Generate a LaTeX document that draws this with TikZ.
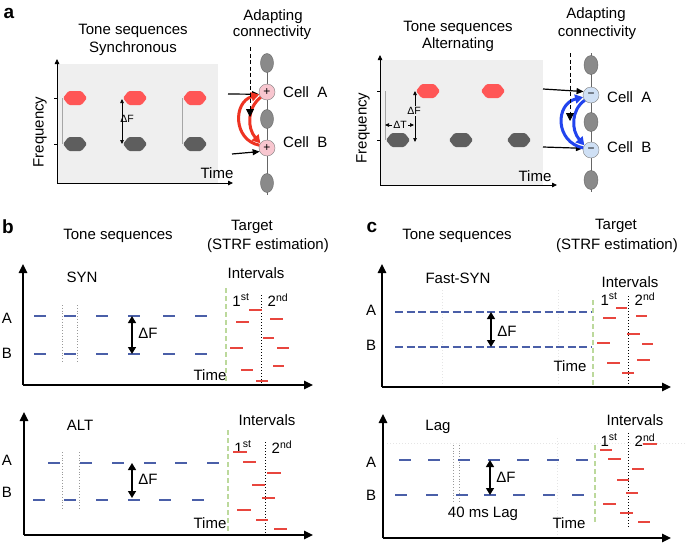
\documentclass[tikz,border=0pt]{standalone}
\usepackage{fontspec}
\setmainfont{Liberation Sans}
\usetikzlibrary{arrows.meta,shapes.geometric}
\definecolor{bgpanel}{HTML}{EFEFEF}
\definecolor{hexred}{HTML}{FF5656}
\definecolor{hexgray}{HTML}{5E5E5E}
\definecolor{cellpink}{HTML}{F8C6CF}
\definecolor{cellblue}{HTML}{CFE0F5}
\definecolor{cellgray}{HTML}{8A8A8A}
\definecolor{arrred}{HTML}{EE3322}
\definecolor{arrblue}{HTML}{2244EE}
\definecolor{bluedash}{HTML}{4A5FA8}
\definecolor{reddash}{HTML}{E8463E}
\definecolor{greendash}{HTML}{BCD99C}
\begin{document}
\begin{tikzpicture}[x=1pt,y=-1pt,
  every node/.style={inner sep=0pt},
  txt/.style={font=\fontsize{15}{17}\selectfont},
  small/.style={font=\fontsize{10.5}{12}\selectfont},
  plabel/.style={font=\fontsize{19}{22}\selectfont\bfseries},
  axisa/.style={line width=0.8, -{Triangle[length=5,width=4.5]}},
  axisb/.style={line width=1.4, -{Triangle[length=9,width=8.5]}},
  tickl/.style={line width=0.7},
  thingray/.style={line width=0.8, black!35},
  smallarr/.style={line width=0.7, {Triangle[length=4,width=3.5]}-{Triangle[length=4,width=3.5]}},
  dfarr/.style={line width=1.4, {Triangle[length=7,width=8]}-{Triangle[length=7,width=8]}},
  inarr/.style={line width=1.2, -{Triangle[length=7,width=6]}},
  dasharr/.style={line width=0.8, dash pattern=on 4pt off 2.5pt, -{Triangle[length=8,width=8]}},
  redarr/.style={arrred, line width=3, -{Triangle[length=8,width=9]}},
  bluearr/.style={arrblue, line width=3, -{Triangle[length=8,width=9]}},
  chain/.style={black!60, line width=1},
  cellp/.style={circle, draw=black!50, fill=cellpink, minimum size=16pt, font=\fontsize{12}{12}\selectfont},
  cellb/.style={circle, draw=black!50, fill=cellblue, minimum size=16pt, font=\fontsize{12}{12}\selectfont},
  gcell/.style={ellipse, draw=black!60, fill=cellgray, minimum width=13pt, minimum height=19pt},
  bdash/.style={draw=bluedash, line width=1.3},
  rdash/.style={draw=reddash, line width=1.2},
  gdots/.style={black!40, line width=0.8, dash pattern=on 0.8pt off 2pt},
  faint/.style={black!10, line width=0.8, dash pattern=on 0.8pt off 2.2pt},
  ival/.style={black, line width=0.9, dash pattern=on 0.9pt off 2.1pt},
  gline/.style={greendash, line width=2, dash pattern=on 5pt off 3pt},
  hexa/.pic={\path[pic actions, rounded corners=1.5pt] (-12,0) -- (-6.5,-7) -- (6.5,-7) -- (12,0) -- (6.5,7) -- (-6.5,7) -- cycle;}
]
\useasboundingbox (0,0) rectangle (685,544);
\fill[white] (0,0) rectangle (685,544);

% ================= Panel a, left =================
\node[plabel] (la) at (9,13) {a};
\fill[bgpanel] (57,64) rectangle (218,183);
\coordinate (axL0) at (57,183);
\coordinate (axLy) at (57,59);
\coordinate (axLx) at (233,183);
\draw[axisa] (axL0) -- (axLy);
\draw[axisa] (axL0) -- (axLx);
\draw[tickl] (54,98) -- (57,98);
\draw[tickl] (54,144) -- (57,144);
\node[txt] (ts1) at (133,31) {Tone sequences};
\node[txt] (syn1) at (133,49) {Synchronous};
\node[txt, rotate=90] (fq1) at (40,132) {Frequency};
\node[txt] (tm1) at (217,173) {Time};
\draw[thingray] (62,98) -- (62,144);
\draw[thingray] (182,98) -- (182,144);
\foreach \x in {75,135,195} {
  \pic[fill=hexred] at (\x,98) {hexa};
  \pic[fill=hexgray] at (\x,144) {hexa};
}
\coordinate (dfa1t) at (122,99);
\coordinate (dfa1b) at (122,144);
\draw[smallarr] (dfa1t) -- (dfa1b);
\node[small] (dfl1) at (127,119) {ΔF};

% connectivity left
\node[txt] (ad1) at (273,17) {Adapting};
\node[txt] (co1) at (272,33) {connectivity};
\coordinate (ch1t) at (267,55);
\coordinate (ch1b) at (267,195);
\draw[chain] (ch1t) -- (ch1b);
\node[gcell] (g11) at (267,63) {};
\node[cellp] (cA1) at (267,92) {+};
\node[gcell] (g12) at (267,119) {};
\node[cellp] (cB1) at (267,148) {+};
\node[gcell] (g13) at (267,183) {};
\node[txt, anchor=west] (lA1) at (283,92) {Cell~~A};
\node[txt, anchor=west] (lB1) at (283,142) {Cell~~B};
\coordinate (in1a) at (228,94);
\coordinate (in1b) at (232,154);
\draw[inarr] (in1a) -- (cA1.196);
\draw[inarr] (in1b) -- (cB1.206);
\coordinate (ds1t) at (250,47);
\coordinate (ds1b) at (250,117);
\draw[redarr] (cB1.160) .. controls (233,140) and (233,102) .. (cA1.198);
\draw[redarr] (cA1.220) .. controls (247,108) and (247,128) .. (cB1.145);
\draw[dasharr] (ds1t) -- (ds1b);

% ================= Panel a, right =================
\fill[bgpanel] (380,60) rectangle (543,185);
\coordinate (axR0) at (380,185);
\coordinate (axRy) at (380,55);
\coordinate (axRx) at (557,185);
\draw[axisa] (axR0) -- (axRy);
\draw[axisa] (axR0) -- (axRx);
\draw[tickl] (377,91) -- (380,91);
\draw[tickl] (377,140) -- (380,140);
\node[txt] (ts2) at (458,28) {Tone sequences};
\node[txt] (alt2) at (458,45) {Alternating};
\node[txt, rotate=90] (fq2) at (363,128) {Frequency};
\node[txt] (tm2) at (535,176) {Time};
\draw[thingray] (385,91) -- (385,140);
\pic[fill=hexred] at (428,91) {hexa};
\pic[fill=hexred] at (493,91) {hexa};
\pic[fill=hexgray] at (398,140) {hexa};
\pic[fill=hexgray] at (461,140) {hexa};
\pic[fill=hexgray] at (519,140) {hexa};
\coordinate (dfa2t) at (415,91);
\coordinate (dfa2b) at (415,142);
\draw[smallarr] (dfa2t) -- (dfa2b);
\node[small, fill=bgpanel, inner sep=1pt] (dfl2) at (414,111) {ΔF};
\coordinate (dtl) at (385,125);
\coordinate (dtr) at (414,125);
\draw[smallarr] (dtl) -- (dtr);
\node[small, fill=bgpanel, inner sep=1pt] (dtlab) at (400,125) {ΔT};

% connectivity right
\node[txt] (ad2) at (596,15) {Adapting};
\node[txt] (co2) at (597,33) {connectivity};
\coordinate (ch2t) at (591,53);
\coordinate (ch2b) at (591,192);
\draw[chain] (ch2t) -- (ch2b);
\node[gcell, minimum width=14pt, minimum height=19pt] (g21) at (591,65) {};
\node[cellb] (cA2) at (591,95) {−};
\node[gcell, minimum width=14pt, minimum height=19pt] (g22) at (591,122) {};
\node[cellb] (cB2) at (591,150) {−};
\node[gcell, minimum width=14pt, minimum height=19pt] (g23) at (591,180) {};
\node[txt, anchor=west] (lA2) at (607,97) {Cell~~A};
\node[txt, anchor=west] (lB2) at (607,147) {Cell~~B};
\coordinate (in2a) at (543,89);
\coordinate (in2b) at (543,147);
\draw[inarr] (in2a) -- (cA2.155);
\draw[inarr] (in2b) -- (cB2.168);
\coordinate (ds2t) at (570,53);
\coordinate (ds2b) at (570,121);
\draw[bluearr] (cB2.165) .. controls (555,142) and (555,104) .. (cA2.195);
\draw[bluearr] (cA2.220) .. controls (571,110) and (571,130) .. (cB2.145);
\draw[dasharr] (ds2t) -- (ds2b);

% ================= Panel b =================
\node[plabel] (lb) at (8,227) {b};
\node[txt] (ts3) at (118,236) {Tone sequences};
\node[txt] (tg3) at (252,227) {Target};
\node[txt] (st3) at (268,246) {(STRF estimation)};

% b top
\coordinate (b1o) at (23,385);
\coordinate (b1y) at (23,264);
\coordinate (b1x) at (313,385);
\draw[axisb] (b1o) -- (b1y);
\draw[axisb] (b1o) -- (b1x);
\node[txt] (syn3) at (82,277) {SYN};
\node[txt] (a3) at (7,318) {A};
\node[txt] (b3) at (7,353) {B};
\draw[gdots] (62,305) -- (62,363);
\draw[gdots] (77,305) -- (77,363);
\foreach \x in {40,70,102,134,169,201} {
  \draw[bdash] (\x-6,316) -- (\x+6,316);
  \draw[bdash] (\x-6,354) -- (\x+6,354);
}
\coordinate (df3t) at (132,316);
\coordinate (df3b) at (132,354);
\draw[dfarr] (df3t) -- (df3b);
\node[txt] (dfl3) at (148,333) {ΔF};
\node[txt] (tm3) at (210,375) {Time};
\draw[gline] (226,288) -- (226,383);
\node[txt] (iv3) at (256,273) {Intervals};
\node[txt] (f3) at (241,300) {1\textsuperscript{st}};
\node[txt] (s3) at (278,300) {2\textsuperscript{nd}};
\draw[ival] (261,295) -- (261,385);
\foreach \a/\b/\y in {249/262/310, 236/249/322, 270/283/319, 263/274/338, 230/243/348, 277/289/348, 273/284/366, 241/253/370, 256/268/381}
  \draw[rdash] (\a,\y) -- (\b,\y);

% b bottom
\coordinate (b2o) at (24,535);
\coordinate (b2y) at (24,412);
\coordinate (b2x) at (313,535);
\draw[axisb] (b2o) -- (b2y);
\draw[axisb] (b2o) -- (b2x);
\node[txt] (alt4) at (80,425) {ALT};
\node[txt] (a4) at (7,460) {A};
\node[txt] (b4) at (7,492) {B};
\draw[gdots] (62,452) -- (62,510);
\draw[gdots] (79,452) -- (79,510);
\foreach \x in {54,86,118,150,181,213}
  \draw[bdash] (\x-6,463) -- (\x+6,463);
\foreach \x in {39,70,102,134,165,198}
  \draw[bdash] (\x-6,500) -- (\x+6,500);
\coordinate (df4t) at (132,463);
\coordinate (df4b) at (132,498);
\draw[dfarr] (df4t) -- (df4b);
\node[txt] (dfl4) at (148,479) {ΔF};
\node[txt] (tm4) at (210,523) {Time};
\draw[gline] (228,430) -- (228,532);
\node[txt] (iv4) at (267,420) {Intervals};
\node[txt] (f4) at (243,447) {1\textsuperscript{st}};
\node[txt] (s4) at (282,447) {2\textsuperscript{nd}};
\draw[ival] (265,442) -- (265,535);
\foreach \a/\b/\y in {233/247/452, 243/256/462, 267/281/473, 252/265/485, 262/275/498, 237/251/510, 256/268/520, 274/287/529}
  \draw[rdash] (\a,\y) -- (\b,\y);

% ================= Panel c =================
\node[plabel] (lc) at (372,227) {c};
\node[txt] (ts5) at (457,236) {Tone sequences};
\node[txt] (tg5) at (616,226) {Target};
\node[txt] (st5) at (617,246) {(STRF estimation)};

% c top
\draw[faint] (442,290) -- (442,385);
\draw[faint] (558,290) -- (558,385);
\coordinate (c1o) at (382,387);
\coordinate (c1y) at (382,264);
\coordinate (c1x) at (671,387);
\draw[axisb] (c1o) -- (c1y);
\draw[axisb] (c1o) -- (c1x);
\node[txt] (fs5) at (458,278) {Fast-SYN};
\node[txt] (a5) at (371,310) {A};
\node[txt] (b5) at (371,345) {B};
\draw[bdash, dash pattern=on 8pt off 3.5pt] (395,312) -- (592,312);
\draw[bdash, dash pattern=on 8pt off 3.5pt] (395,347) -- (592,347);
\coordinate (df5t) at (491,312);
\coordinate (df5b) at (491,347);
\draw[dfarr] (df5t) -- (df5b);
\node[txt] (dfl5) at (507,331) {ΔF};
\node[txt] (tm5) at (570,366) {Time};
\draw[gline] (593,300) -- (593,385);
\node[txt] (iv5) at (630,282) {Intervals};
\node[txt] (f5) at (609,299) {1\textsuperscript{st}};
\node[txt] (s5) at (645,299) {2\textsuperscript{nd}};
\draw[ival] (628,296) -- (628,387);
\foreach \a/\b/\y in {616/627/308, 603/616/318, 636/647/316, 627/640/334, 597/610/343, 642/653/344, 637/650/360, 607/620/363, 622/634/373}
  \draw[rdash] (\a,\y) -- (\b,\y);

% c bottom
\draw[faint] (387,443) -- (685,443);
\draw[faint] (557,438) -- (557,535);
\coordinate (c2o) at (383,538);
\coordinate (c2y) at (383,414);
\coordinate (c2x) at (671,538);
\draw[axisb] (c2o) -- (c2y);
\draw[axisb] (c2o) -- (c2x);
\node[txt] (lag6) at (438,427) {Lag};
\node[txt] (a6) at (371,462) {A};
\node[txt] (b6) at (371,495) {B};
\draw[gdots] (453,445) -- (453,502);
\draw[gdots] (459,445) -- (459,502);
\foreach \x in {405,434,464,494,523,553,582}
  \draw[bdash] (\x-6,460) -- (\x+6,460);
\foreach \x in {401,432,462,490,519,549,578}
  \draw[bdash] (\x-6,495) -- (\x+6,495);
\coordinate (df6t) at (490,460);
\coordinate (df6b) at (490,495);
\draw[dfarr] (df6t) -- (df6b);
\node[txt] (dfl6) at (506,477) {ΔF};
\node[txt] (lg6) at (483,514) {40 ms Lag};
\node[txt] (tm6) at (569,523) {Time};
\draw[gline] (595,445) -- (595,523);
\node[txt] (iv6) at (635,420) {Intervals};
\node[txt] (f6) at (609,440) {1\textsuperscript{st}};
\node[txt] (s6) at (645,440) {2\textsuperscript{nd}};
\draw[ival] (628,433) -- (628,527);
\foreach \a/\b/\y in {600/612/450, 608/621/459, 643/657/444, 632/644/469, 617/629/480, 626/638/493, 603/616/504, 620/633/513, 638/650/522}
  \draw[rdash] (\a,\y) -- (\b,\y);
\end{tikzpicture}
\end{document}
